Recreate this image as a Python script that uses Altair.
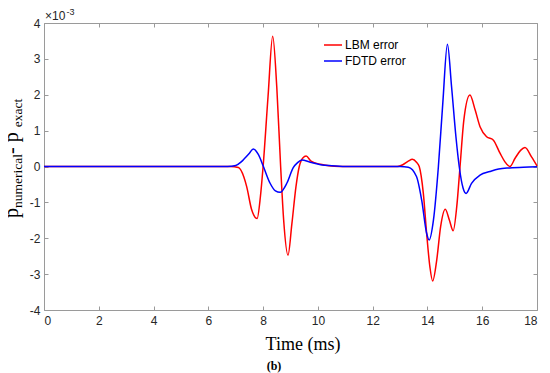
import altair as alt
import pandas as pd

# Values in units of 1e-3 (axis shows x10^-3)
lbm_t = [0, 6.8, 7.1, 7.3, 7.4, 7.58, 7.78, 7.9, 8.0, 8.18, 8.35, 8.5, 8.64, 8.75, 8.91, 9.05, 9.2, 9.32,
         9.45, 9.57, 9.75, 10.1, 10.4, 10.8, 12.9, 13.1, 13.3, 13.45, 13.6, 13.7, 13.85, 13.97, 14.09, 14.19,
         14.34, 14.48, 14.65, 14.8, 14.94, 15.07, 15.19, 15.33, 15.55, 15.74, 15.92, 16.16, 16.4, 16.65,
         16.83, 17.01, 17.2, 17.4, 17.56, 17.8, 18.0]
lbm_v = [0, 0, -0.03, -0.3, -0.56, -1.2, -1.45, -0.85, 0.0, 1.95, 3.63, 2.2, 0.0, -1.49, -2.47, -1.6, -0.56, 0.0,
         0.24, 0.29, 0.15, 0.06, 0.02, 0, 0, 0.05, 0.15, 0.2, 0.12, 0.0, -0.75, -1.86, -2.8, -3.19,
         -2.6, -1.68, -1.19, -1.49, -1.79, -1.12, 0.0, 1.3, 1.99, 1.58, 1.11, 0.83, 0.74, 0.37,
         0.13, 0.0, 0.23, 0.45, 0.53, 0.27, 0.02]

fdtd_t = [0, 6.7, 7.0, 7.2, 7.33, 7.5, 7.64, 7.83, 8.0, 8.25, 8.45, 8.62, 8.87, 9.1, 9.25, 9.41, 9.72, 10.1,
          10.5, 11.0, 13.0, 13.3, 13.6, 13.79, 13.97, 14.06, 14.22, 14.4, 14.56, 14.73, 14.88, 15.04, 15.16,
          15.3, 15.41, 15.61, 15.92, 16.28, 16.6, 17.0, 17.5, 18.0]
fdtd_v = [0, 0, 0.03, 0.13, 0.23, 0.37, 0.49, 0.33, 0.02, -0.46, -0.68, -0.72, -0.46, -0.03, 0.1, 0.18, 0.12, 0.05,
          0.02, 0, 0, -0.02, -0.28, -0.94, -1.86, -2.05, -1.49, 0.0, 1.76, 3.41, 2.23, 0.83, 0.0,
          -0.6, -0.75, -0.47, -0.24, -0.14, -0.07, -0.04, -0.02, -0.01]

series = ["LBM error", "FDTD error"]
colors = ["#ff0000", "#0000ff"]
x_ticks = list(range(0, 19, 2))
y_ticks = list(range(-4, 5))

assert len(lbm_t) == len(lbm_v) and len(fdtd_t) == len(fdtd_v)

df = pd.DataFrame({
    "t": lbm_t + fdtd_t,
    "v": lbm_v + fdtd_v,
    "s": [series[0]] * len(lbm_t) + [series[1]] * len(fdtd_t),
    "o": list(range(len(lbm_t))) + list(range(len(fdtd_t))),
})

GRAY = "#9a9a9a"
LAB = "#262626"
SANS = "Liberation Sans"
SERIF = "Liberation Serif"

xs = alt.Scale(domain=[0, 18], nice=False, zero=False)
ys = alt.Scale(domain=[-4, 4], nice=False, zero=False)

common_axis = dict(grid=False, domain=False, tickSize=4, offset=-4, tickColor=GRAY, tickWidth=1,
                   labelFont=SANS, labelFontSize=12, labelColor=LAB, title=None)

lines = alt.Chart(df).mark_line(strokeWidth=1.5, interpolate="monotone").encode(
    x=alt.X("t:Q", scale=xs, axis=alt.Axis(orient="bottom", values=x_ticks, labelPadding=5,
                                            labelExpr="datum.value + ''", **common_axis)),
    y=alt.Y("v:Q", scale=ys, axis=alt.Axis(orient="left", values=y_ticks, labelPadding=4,
                                            labelExpr="datum.value + ''", **common_axis)),
    color=alt.Color("s:N", scale=alt.Scale(domain=series, range=colors),
                    legend=alt.Legend(orient="none", legendX=279, legendY=12, title=None,
                                      symbolType="stroke", symbolSize=324, symbolStrokeWidth=1.5,
                                      labelFont=SANS, labelFontSize=12, labelColor="#000000",
                                      labelOffset=2, rowPadding=-6, padding=0)),
    order="o:Q",
)

frame_axes = alt.Chart(df).mark_line(opacity=0).encode(
    x=alt.X("t:Q", scale=xs, axis=alt.Axis(orient="top", values=x_ticks, labels=False, **common_axis)),
    y=alt.Y("v:Q", scale=ys, axis=alt.Axis(orient="right", values=y_ticks, labels=False, **common_axis)),
    detail="s:N",
)

one = pd.DataFrame({"a": [0]})

def txt(text, x, y, size, font=SANS, angle=0, align="left", weight="normal", color="#000000",
        baseline="alphabetic"):
    return alt.Chart(one).mark_text(text=text, font=font, fontSize=size, angle=angle, align=align,
                                    baseline=baseline, fontWeight=weight, color=color).encode(
        x=alt.value(x), y=alt.value(y))

# label pieces (plot-relative pixel positions)
exp1 = txt("\u00d710", 1, -3, 12, color=LAB)
exp2 = txt("-3", 22.5, -8, 9, color=LAB)
xtitle = txt("Time (ms)", 259, 326.5, 18, font=SERIF, align="center")
cap = txt("(b)", 230, 347, 12, font=SERIF, align="center", weight="bold")

NB = "\u00a0"
yl = []
y0 = 195
yl.append(txt("p", -26.5, y0, 20, font=SERIF, angle=270))
y1 = y0 - 10
yl.append(txt("numerical", -22.5, y1, 13.5, font=SERIF, angle=270))
y2 = y1 - 54
yl.append(txt(NB + "-" + NB + "p", -26.5, y2, 20, font=SERIF, angle=270))
y3 = y2 - 26.7
yl.append(txt("exact", -22.5, y3, 13.5, font=SERIF, angle=270))

chart = alt.layer(lines, frame_axes, exp1, exp2, xtitle, cap, *yl).properties(
    width=493, height=287,
    autosize=alt.AutoSizeParams(type="none"),
    padding={"left": 36, "top": 15, "right": 5, "bottom": 63},
).configure_view(stroke=GRAY, strokeWidth=1)

chart.save("out.html", embed_options={"renderer": "svg", "actions": False})
